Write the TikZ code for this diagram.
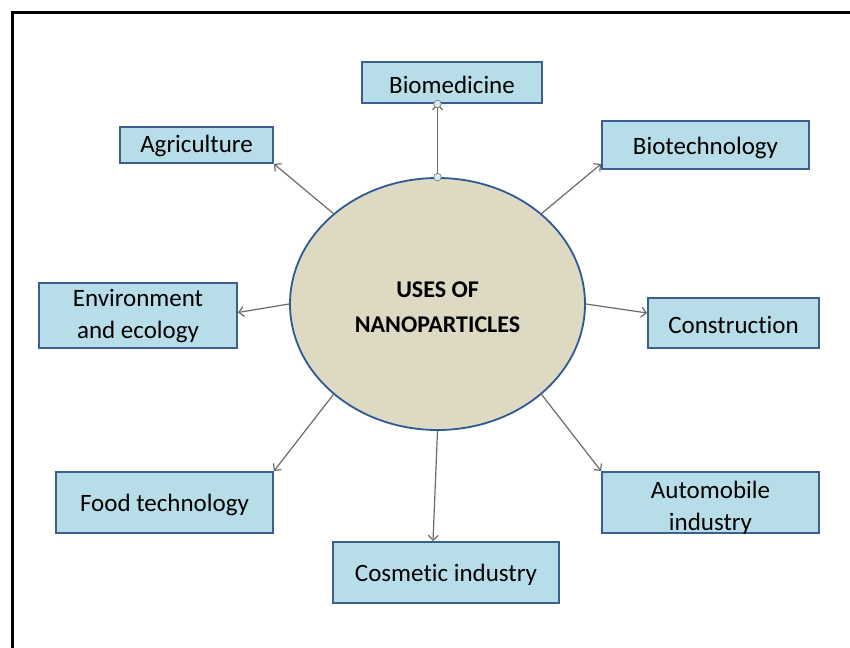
\documentclass[tikz,border=0pt]{standalone}
\usepackage{fontspec}
\setmainfont{Carlito}[Ligatures=NoCommon]
\usetikzlibrary{shapes.geometric,arrows.meta,calc}
\definecolor{boxfill}{HTML}{B7DEE8}
\definecolor{boxline}{HTML}{3B5F8E}
\definecolor{ellfill}{HTML}{DDD9C3}
\definecolor{ellline}{HTML}{2E5A94}
\definecolor{arrgray}{HTML}{6A6A6A}
\definecolor{handle}{HTML}{D5ECF3}
\newcommand{\lowertext}[2]{\raisebox{-#1}[\height][\depth]{#2}}
\tikzset{
  usebox/.style={draw=boxline, fill=boxfill, line width=1.8pt, rectangle, inner sep=0pt,
    align=center, font=\fontsize{25}{32}\selectfont},
  hub/.style={ellipse, draw=ellline, fill=ellfill, line width=1.8pt, inner sep=0pt,
    minimum width=295pt, minimum height=252pt, align=center,
    font=\fontsize{24}{35}\selectfont\bfseries},
  arr/.style={draw=arrgray, line width=1.2pt, -{Straight Barb[length=5pt,width=10pt]}},
  hnd/.style={draw=gray, fill=handle, line width=0.7pt}
}
\begin{document}
\begin{tikzpicture}[x=1pt,y=-1pt]
\useasboundingbox (0,0) rectangle (850,647);
% frame
\draw[line width=2.2pt, line cap=rect] (12.5,647) -- (12.5,12.5) -- (850,12.5);
% hub
\node[hub] (c) at (437.5,304) {\lowertext{3pt}{\parbox{180pt}{\centering USES OF\\NANOPARTICLES}}};
% boxes
\node[usebox, minimum width=180pt, minimum height=41pt] (bio) at (452,82.5) {\lowertext{2pt}{Biomedicine}};
\node[usebox, minimum width=153pt, minimum height=36pt] (agr) at (196.5,145) {\lowertext{1pt}{Agriculture}};
\node[usebox, minimum width=207pt, minimum height=48pt] (biot) at (705.5,145) {\lowertext{3pt}{Biotechnology}};
\node[usebox, minimum width=198pt, minimum height=65pt] (env) at (138,315.5) {\lowertext{1pt}{\parbox{190pt}{\centering Environment\\and ecology}}};
\node[usebox, minimum width=171pt, minimum height=50pt] (con) at (733.5,323) {\lowertext{2pt}{Construction}};
\node[usebox, minimum width=217pt, minimum height=61pt] (food) at (164.5,502.5) {\lowertext{2pt}{Food technology}};
\node[usebox, minimum width=217pt, minimum height=61pt] (auto) at (710.5,502.5) {\lowertext{5pt}{\parbox{200pt}{\centering Automobile\\industry}}};
\node[usebox, minimum width=226pt, minimum height=61pt] (cos) at (446,572.5) {\lowertext{2pt}{Cosmetic industry}};
% connectors
\draw[arr] (c.139) -- (agr.south east);
\draw[arr] (c.north) -- (c.north |- bio.south);
\draw[arr] (c.41) -- ($(biot.south west)+(0,-6)$);
\draw[arr] (c.180) -- ($(env.east)+(0,-3)$);
\draw[arr] (c.0) -- ($(con.west)+(0,-10)$);
\draw[arr] (c.221) -- (food.north east);
\draw[arr] (c.south) -- ($(cos.north)+(-13,0)$);
\draw[arr] (c.319) -- (auto.north west);
% selection handles
\draw[hnd] (c.north) circle (3.8pt);
\draw[hnd] (c.north |- bio.south) circle (3.8pt);
\end{tikzpicture}
\end{document}
